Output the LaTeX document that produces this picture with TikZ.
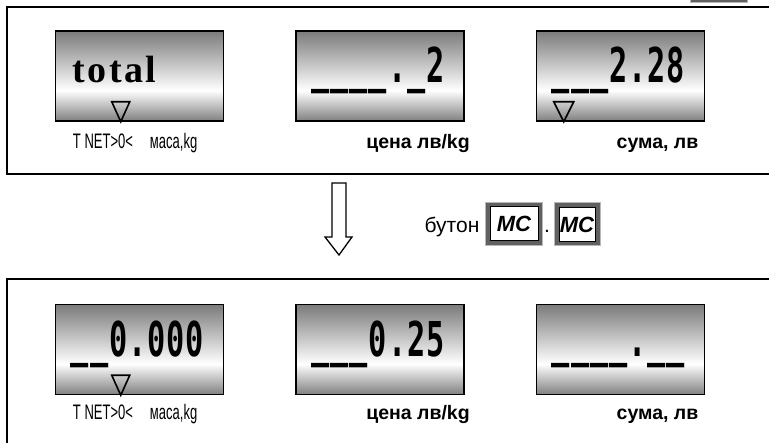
\documentclass[tikz,border=0pt]{standalone}
\usepackage{fontspec}
\setmainfont{Liberation Sans}
\newfontfamily\segfont{DejaVu Sans Mono}[FakeStretch=0.63,LetterSpace=2]
\newfontfamily\totalfont{Liberation Serif}[LetterSpace=6]
\newfontfamily\narrowfont{Liberation Sans}[FakeStretch=0.62]
\usepackage{tikz}
\usetikzlibrary{calc,positioning,backgrounds}
\pgfdeclareverticalshading{lcdshade}{100bp}{color(0bp)=(black!50); color(25bp)=(black!50); color(42bp)=(white); color(75bp)=(black!52); color(100bp)=(black!52)}

\begin{document}
\begin{tikzpicture}[x=1pt,y=-1pt,
  frame/.style={draw,line width=1.6pt},
  lcd/.style={draw,line width=1.5pt,shade,shading=lcdshade,minimum width=168pt,minimum height=90pt,inner sep=0pt},
  seg/.style={anchor=base west,inner sep=0pt,font=\segfont\bfseries\fontsize{48pt}{48pt}\selectfont},
  indicator/.style={draw,line width=1.6pt,line join=miter},
  lbl/.style={anchor=base west,inner sep=0pt,font=\narrowfont\fontsize{21pt}{21pt}\selectfont},
  unit/.style={anchor=base,inner sep=0pt,font=\bfseries\fontsize{19.5pt}{19.5pt}\selectfont},
  key/.style={draw,line width=1pt,fill=white,minimum height=34pt,inner sep=0pt,font=\bfseries\itshape\fontsize{22pt}{22pt}\selectfont},
  rim/.style={fill=black!62,draw=black!28,line width=1pt}]
\useasboundingbox (0,0) rectangle (769,443);
\clip (0,0) rectangle (769,443);
\draw[rim] (690,-8) rectangle (747,2.5);
\draw[frame] (7,7) rectangle (790,174);
\draw[frame] (7,279) rectangle (790,470);
% top row
\node[lcd] (w1) at (139.5,76) {};
\node[lcd, right=71pt of w1] (p1) {};
\node[lcd, right=71pt of p1] (s1) {};
\node[anchor=base west,inner sep=0pt,font=\totalfont\bfseries\fontsize{38pt}{38pt}\selectfont] (tot) at ($(w1.north west)+(18,52)$) {total};
\node[seg] (pv1) at ($(p1.north west)+(16,52)$) {\_\_\_\_.\_2};
\node[seg] (sv1) at ($(s1.north west)+(16,52)$) {\_\_\_2.28};
\draw[indicator] ($(w1.south west)+(57,-20)$) -- ++(18,0) -- ++(-9,20) -- cycle;
\draw[indicator] ($(s1.south west)+(18,-20)$) -- ++(20,0) -- ++(-10,20) -- cycle;
\node[lbl] (tn1) at ($(w1.north west)+(18,118)$) {T NET>0<};
\node[lbl] (kg1) at ($(w1.north west)+(95,118)$) {маса,kg};
\node[unit] (pu1) at ($(p1.north)+(38,118)$) {цена лв/kg};
\node[unit] (su1) at ($(s1.north)+(37,118)$) {сума, лв};
% key press
\draw[line width=1.3pt] (332,183) -- (346,183) -- (346,237) -- (352,237) -- (339,255) -- (325,237) -- (332,237) -- cycle;
\node[anchor=base,inner sep=0pt,font=\fontsize{21pt}{21pt}\selectfont] (press) at (452,233) {бутон};
\node[key, minimum width=48pt] (mc1) at (514,224) {MC};
\node[anchor=base,inner sep=0pt,font=\fontsize{21pt}{21pt}\selectfont] (sep) at (547,233) {.};
\node[key, minimum width=36pt] (mc2) at (577,224.5) {MC};
\begin{scope}[on background layer]
\draw[rim] ($(mc1.north west)+(-4,-4)$) rectangle ($(mc1.south east)+(4,4)$);
\draw[rim] ($(mc2.north west)+(-4.5,-4)$) rectangle ($(mc2.south east)+(4.5,4)$);
\end{scope}
% bottom row
\node[lcd, below=182pt of w1] (w2) {};
\node[lcd, right=71pt of w2] (p2) {};
\node[lcd, right=71pt of p2] (s2) {};
\node[seg] (wv2) at ($(w2.north west)+(16,53)$) {\_\_0.000};
\node[seg] (pv2) at ($(p2.north west)+(16,53)$) {\_\_\_0.25};
\node[seg] (sv2) at ($(s2.north west)+(16,53)$) {\_\_\_\_.\_\_};
\draw[indicator] ($(w2.south west)+(57,-20)$) -- ++(18,0) -- ++(-9,20) -- cycle;
\node[lbl] (tn2) at ($(w2.north west)+(18,116)$) {T NET>0<};
\node[lbl] (kg2) at ($(w2.north west)+(95,116)$) {маса,kg};
\node[unit] (pu2) at ($(p2.north)+(38,116)$) {цена лв/kg};
\node[unit] (su2) at ($(s2.north)+(37,116)$) {сума, лв};
\end{tikzpicture}
\end{document}
